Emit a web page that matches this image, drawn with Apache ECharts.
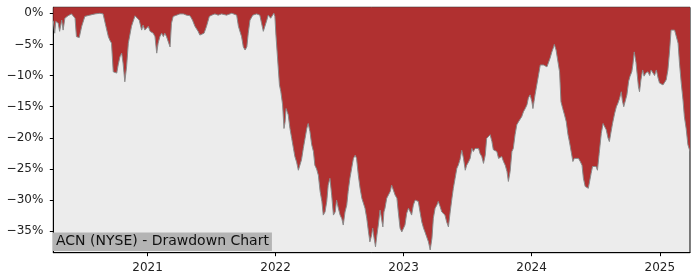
<!DOCTYPE html>
<html>
<head>
<meta charset="utf-8">
<script src="https://cdn.jsdelivr.net/npm/echarts@6/dist/echarts.min.js"></script>
<style>html,body{margin:0;padding:0;background:#fff}#c{width:700px;height:280px}</style>
</head>
<body>
<div id="c"></div>
<script>
const dates = [
'2020-04-07','2020-04-11','2020-04-14','2020-04-21','2020-04-25','2020-05-01','2020-05-05','2020-05-10','2020-05-19','2020-05-29',
'2020-06-08','2020-06-12','2020-06-20','2020-06-27','2020-07-06','2020-07-20','2020-08-04','2020-08-18','2020-08-27','2020-09-04',
'2020-09-11','2020-09-15','2020-09-20','2020-09-25','2020-10-05','2020-10-09','2020-10-14','2020-10-19','2020-10-23','2020-10-28',
'2020-11-02','2020-11-07','2020-11-16','2020-11-26','2020-12-01','2020-12-08','2020-12-15','2020-12-19','2020-12-24','2020-12-29',
'2021-01-03','2021-01-08','2021-01-12','2021-01-17','2021-01-22','2021-01-27','2021-01-31','2021-02-05','2021-02-10','2021-02-15',
'2021-02-19','2021-02-24','2021-03-01','2021-03-06','2021-03-10','2021-03-15','2021-03-25','2021-04-03','2021-04-13','2021-04-22',
'2021-05-02','2021-05-09','2021-05-16','2021-05-25','2021-05-30','2021-06-04','2021-06-11','2021-06-18','2021-06-26','2021-07-03',
'2021-07-12','2021-07-21','2021-07-31','2021-08-14','2021-08-29','2021-09-12','2021-09-17','2021-09-26','2021-10-01','2021-10-06',
'2021-10-11','2021-10-15','2021-10-20','2021-10-28','2021-11-08','2021-11-17','2021-11-22','2021-11-27','2021-12-02','2021-12-07',
'2021-12-11','2021-12-18','2021-12-22','2021-12-27','2021-12-30','2022-01-02','2022-01-06','2022-01-12','2022-01-16','2022-01-21',
'2022-01-25','2022-01-28','2022-01-31','2022-02-03','2022-02-06','2022-02-11','2022-02-16','2022-02-21','2022-02-25','2022-03-02',
'2022-03-07','2022-03-12','2022-03-16','2022-03-21','2022-03-26','2022-03-31','2022-04-04','2022-04-09','2022-04-14','2022-04-19',
'2022-04-23','2022-04-28','2022-05-03','2022-05-08','2022-05-13','2022-05-17','2022-05-22','2022-05-27','2022-05-31','2022-06-05',
'2022-06-10','2022-06-15','2022-06-20','2022-06-24','2022-06-29','2022-07-04','2022-07-09','2022-07-13','2022-07-18','2022-07-23',
'2022-07-27','2022-08-01','2022-08-06','2022-08-11','2022-08-16','2022-08-20','2022-08-25','2022-08-30','2022-09-04','2022-09-08',
'2022-09-13','2022-09-18','2022-09-23','2022-09-27','2022-10-02','2022-10-05','2022-10-09','2022-10-13','2022-10-17','2022-10-21',
'2022-10-26','2022-10-31','2022-11-03','2022-11-06','2022-11-09','2022-11-14','2022-11-19','2022-11-24','2022-11-28','2022-12-03',
'2022-12-08','2022-12-13','2022-12-17','2022-12-22','2022-12-27','2023-01-01','2023-01-05','2023-01-10','2023-01-15','2023-01-20',
'2023-01-24','2023-01-29','2023-02-03','2023-02-08','2023-02-12','2023-02-17','2023-02-22','2023-02-27','2023-03-03','2023-03-08',
'2023-03-13','2023-03-18','2023-03-23','2023-03-27','2023-04-01','2023-04-06','2023-04-10','2023-04-15','2023-04-20','2023-04-25',
'2023-04-29','2023-05-04','2023-05-09','2023-05-14','2023-05-19','2023-05-23','2023-05-28','2023-06-02','2023-06-06','2023-06-11',
'2023-06-16','2023-06-21','2023-06-26','2023-06-30','2023-07-05','2023-07-10','2023-07-15','2023-07-19','2023-07-24','2023-07-29',
'2023-08-03','2023-08-07','2023-08-12','2023-08-17','2023-08-22','2023-08-26','2023-08-31','2023-09-05','2023-09-10','2023-09-14',
'2023-09-19','2023-09-24','2023-09-29','2023-10-03','2023-10-08','2023-10-13','2023-10-18','2023-10-23','2023-10-27','2023-11-01',
'2023-11-06','2023-11-10','2023-11-15','2023-11-20','2023-11-25','2023-11-30','2023-12-04','2023-12-09','2023-12-14','2023-12-19',
'2023-12-23','2023-12-28','2024-01-02','2024-01-05','2024-01-08','2024-01-11','2024-01-16','2024-01-21','2024-01-26','2024-01-30',
'2024-02-04','2024-02-09','2024-02-14','2024-02-18','2024-02-23','2024-02-28','2024-03-04','2024-03-06','2024-03-11','2024-03-16',
'2024-03-21','2024-03-25','2024-03-30','2024-04-04','2024-04-09','2024-04-14','2024-04-18','2024-04-23','2024-04-28','2024-05-02',
'2024-05-07','2024-05-14','2024-05-19','2024-05-24','2024-05-28','2024-06-02','2024-06-07','2024-06-11','2024-06-16','2024-06-19',
'2024-06-23','2024-06-28','2024-07-03','2024-07-07','2024-07-12','2024-07-18','2024-07-23','2024-07-27','2024-08-01','2024-08-06',
'2024-08-10','2024-08-14','2024-08-19','2024-08-25','2024-08-30','2024-09-03','2024-09-08','2024-09-13','2024-09-16','2024-09-20',
'2024-09-24','2024-09-29','2024-10-04','2024-10-08','2024-10-13','2024-10-16','2024-10-20','2024-10-25','2024-10-28','2024-11-01',
'2024-11-04','2024-11-08','2024-11-13','2024-11-17','2024-11-22','2024-11-28','2024-12-03','2024-12-07','2024-12-12','2024-12-17',
'2024-12-22','2024-12-27','2024-12-31','2025-01-05','2025-01-10','2025-01-14','2025-01-19','2025-01-24','2025-01-29','2025-02-02',
'2025-02-07','2025-02-12','2025-02-17','2025-02-22','2025-02-26','2025-03-03','2025-03-08','2025-03-12','2025-03-17','2025-03-22',
'2025-03-28'
];
const drawdown = [
-1.2,-3.2,-1.3,-1.6,-2.9,-1.1,-2.7,-0.8,-0.4,-0.1,
-0.8,-3.75,-3.9,-2.1,-0.5,-0.3,-0.1,0,-0.1,-2.1,
-3.75,-4.3,-4.8,-9.4,-9.6,-8.3,-7,-6.4,-8,-11,
-8.6,-4.8,-2.1,-0.4,-0.3,-1.1,-2.7,-1.9,-2.7,-2.7,
-2.1,-2.9,-2.8,-3.2,-3.75,-6.4,-4.8,-3.75,-3.2,-3.75,
-3.2,-3.75,-4,-5.4,-1.6,-0.5,-0.3,-0.1,-0.1,-0.3,
-0.4,-1.1,-2.1,-2.9,-3.5,-3.6,-3.2,-2.1,-0.5,-0.3,
-0.1,-0.3,-0.1,-0.3,0,-0.3,-2.1,-3.75,-5.4,-5.9,
-5.4,-3.2,-1.1,-0.3,-0.1,-0.3,-1.6,-2.9,-2.7,-1.1,
-0.3,-0.8,-1.0,0,-0.5,-3.5,-6.7,-11.5,-12.6,-14.7,
-18.5,-17.5,-15.3,-15.8,-16.3,-18.5,-20.1,-21.7,-23,-23.9,
-25.2,-25,-23.5,-21.7,-20.1,-18.5,-17.7,-19,-21.1,-22.2,
-24.4,-25,-26,-28.6,-30.2,-32.4,-31.9,-30.2,-27.6,-26.5,
-29.2,-32.4,-31.9,-30,-31.3,-32.4,-33,-34,-31.9,-30.8,
-28.6,-26.5,-24.9,-23.3,-22.8,-23.3,-26,-28.1,-29.7,-29.5,
-31.3,-32.9,-35.1,-36.7,-35.6,-34.5,-36.1,-37.5,-35.6,-34,
-31.6,-31.3,-34.3,-31.9,-31.3,-29.7,-29.5,-28.6,-27.6,-28.4,
-29.2,-29.7,-31.9,-34.5,-35.1,-34.8,-34,-32.1,-31.3,-31.9,
-32.4,-30.8,-30,-30,-30.2,-31.9,-33.5,-34.5,-35.1,-35.9,
-36.7,-38,-36.1,-32.9,-31.3,-30.8,-30.2,-31,-31.9,-31.6,
-32.4,-33.5,-34.3,-31.9,-29.7,-28.1,-26.5,-24.9,-24.4,-23.5,
-22,-23.3,-25.2,-24.4,-23.9,-23.3,-21.7,-22.2,-21.7,-21.9,
-21.7,-22.5,-23,-24.1,-22.8,-20.1,-19.8,-19.5,-20.6,-21.9,
-22.2,-22.2,-23.3,-23.5,-23,-23.8,-24.4,-25.4,-27,-25.4,
-22.2,-21.7,-19.5,-17.9,-17.4,-17.1,-16.6,-15.8,-15.3,-14.7,
-13.6,-13.1,-14.2,-15.3,-14.2,-13.1,-11.5,-9.9,-8.3,-8,
-8.3,-8.3,-8.6,-8.8,-7.2,-6.2,-5.4,-5,-5.9,-6.2,
-9.4,-14.2,-15.3,-16.3,-17.4,-19.5,-20.6,-22.2,-23.8,-23.3,
-23,-23.3,-23.8,-24.4,-26.5,-27.8,-27.6,-28.1,-28.4,-25.7,
-24.6,-24.4,-24.6,-25.2,-22.5,-19.3,-17.7,-17.9,-18.7,-20,
-20.6,-19.3,-17.7,-16.1,-15,-14.5,-13.7,-12.6,-14,-15,
-15.3,-13.1,-10.9,-10.1,-9.4,-8.3,-6.2,-7.9,-9.6,-11.8,
-12.6,-10.7,-9.1,-10.1,-9.6,-9.4,-10,-9.1,-9.4,-10,
-9.1,-10.4,-11.2,-10.9,-11.5,-11.8,-10.7,-9.1,-5.9,-2.7,
-2.4,-2.7,-2.7,-4.8,-8,-11.2,-13.9,-16.6,-18.5,-21.1,
-22.2
];
const yTicks = [0, -5, -10, -15, -20, -25, -30, -35];
const xTickYears = ['2021-01-01', '2022-01-01', '2023-01-01', '2024-01-01', '2025-01-01'];
const titleText = 'ACN (NYSE) - Drawdown Chart';

const toTs = s => { const p = s.split('-').map(Number); return Date.UTC(p[0], p[1]-1, p[2]); };
const seriesData = dates.map((d, i) => [toTs(d), drawdown[i]]);
const xTickTs = xTickYears.map(toTs);
const FONT = 'DejaVu Sans';

const chart = echarts.init(document.getElementById('c'), null, {renderer: 'canvas'});
chart.setOption({
  animation: false,
  backgroundColor: '#ffffff',
  title: {
    text: titleText,
    left: 53, top: 232.5,
    padding: [1, 3, 1, 3],
    backgroundColor: '#b4b4b4',
    textStyle: {fontFamily: FONT, fontSize: 14, fontWeight: 'normal', color: '#111', lineHeight: 16.5}
  },
  grid: {
    left: 53.3, right: 10, top: 7.3, bottom: 27.3,
    show: true, backgroundColor: '#ececec', borderColor: '#000', borderWidth: 1
  },
  xAxis: {
    type: 'value',
    min: toTs(dates[0]), max: toTs(dates[dates.length-1]),
    axisLine: {show: true, onZero: false, lineStyle: {color: '#000', width: 1}},
    axisTick: {show: true, customValues: xTickTs, length: 3.5, lineStyle: {color: '#000'}},
    axisLabel: {
      customValues: xTickTs, margin: 9,
      formatter: v => String(new Date(v).getUTCFullYear()),
      fontFamily: FONT, fontSize: 12, color: '#222'
    },
    splitLine: {show: false}
  },
  yAxis: {
    type: 'value',
    min: -38.44, max: 0.96,
    axisLine: {show: true, lineStyle: {color: '#000', width: 1}},
    axisTick: {show: true, customValues: yTicks, length: 3.5, lineStyle: {color: '#000'}},
    axisLabel: {
      customValues: yTicks, margin: 10,
      formatter: v => (v < 0 ? '\u2212' + Math.abs(v) : String(v)) + '%',
      fontFamily: FONT, fontSize: 12, color: '#222'
    },
    splitLine: {show: false}
  },
  series: [{
    type: 'line',
    data: seriesData,
    showSymbol: false,
    smooth: false,
    lineStyle: {color: '#8a8a8a', width: 1},
    areaStyle: {origin: 'end', color: '#b03030', opacity: 1},
    z: 2
  }]
});
</script>
</body>
</html>
